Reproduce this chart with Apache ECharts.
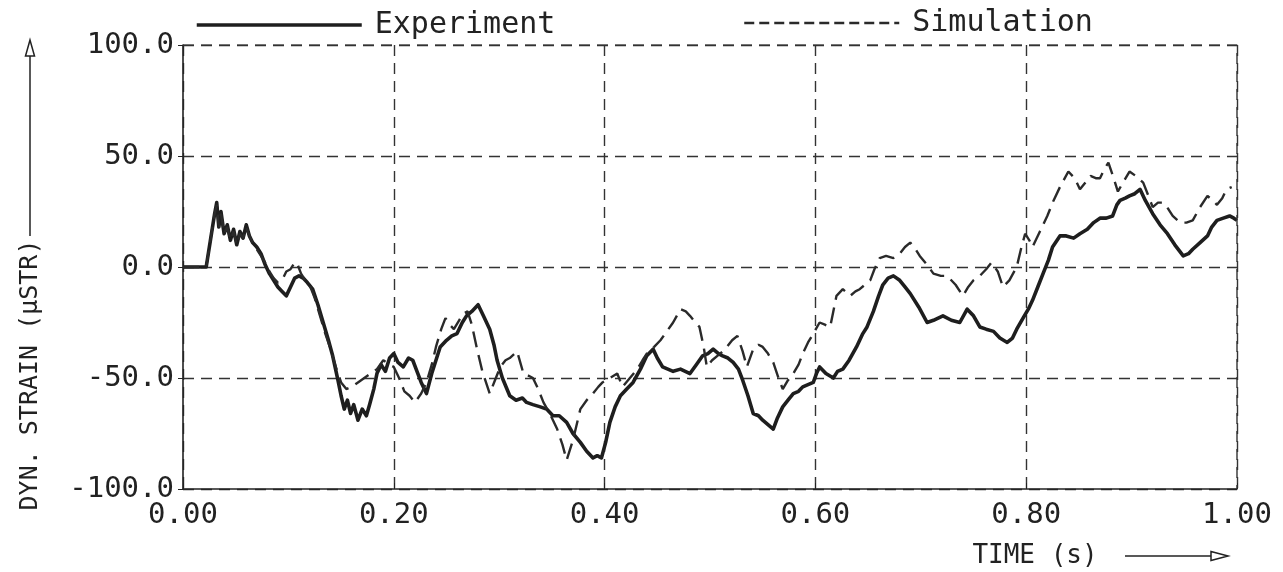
<!DOCTYPE html>
<html><head><meta charset="utf-8">
<script src="https://cdn.jsdelivr.net/npm/echarts@6/dist/echarts.min.js"></script>
<style>html,body{margin:0;padding:0;background:#fff}#c{width:1283px;height:572px}</style>
</head><body><div id="c"></div>
<script>
const xTicks = [0.00, 0.20, 0.40, 0.60, 0.80, 1.00];
const yTicks = [-100, -50, 0, 50, 100];
const seriesNames = ['Experiment', 'Simulation'];
const expT = [0.00,0.022,0.026,0.030,0.032,0.034,0.036,0.039,0.042,0.045,0.048,0.051,0.054,0.057,0.060,0.063,0.066,0.070,0.074,0.078,0.082,0.086,0.090,0.094,0.098,0.102,0.106,0.110,0.114,0.118,0.123,0.128,0.133,0.138,0.142,0.147,0.150,0.153,0.156,0.159,0.162,0.166,0.170,0.174,0.177,0.181,0.184,0.188,0.192,0.196,0.200,0.204,0.209,0.214,0.218,0.222,0.226,0.231,0.236,0.240,0.244,0.250,0.255,0.260,0.265,0.269,0.274,0.280,0.285,0.291,0.295,0.298,0.303,0.310,0.316,0.322,0.326,0.332,0.339,0.345,0.351,0.357,0.364,0.370,0.377,0.383,0.389,0.393,0.397,0.401,0.405,0.410,0.415,0.421,0.427,0.434,0.440,0.446,0.450,0.455,0.460,0.465,0.472,0.481,0.487,0.493,0.498,0.503,0.508,0.512,0.517,0.522,0.527,0.531,0.536,0.541,0.546,0.550,0.555,0.560,0.564,0.569,0.574,0.579,0.584,0.588,0.593,0.598,0.601,0.604,0.610,0.617,0.621,0.626,0.632,0.639,0.645,0.649,0.655,0.660,0.664,0.669,0.674,0.680,0.685,0.690,0.698,0.706,0.712,0.721,0.729,0.737,0.744,0.750,0.756,0.762,0.769,0.775,0.782,0.787,0.791,0.797,0.802,0.806,0.811,0.816,0.821,0.825,0.832,0.838,0.845,0.851,0.858,0.864,0.870,0.876,0.882,0.886,0.889,0.894,0.898,0.903,0.908,0.913,0.920,0.927,0.934,0.941,0.949,0.954,0.958,0.965,0.972,0.976,0.981,0.987,0.993,0.997,1.000];
const expV = [0,0,12,24,29,18,25,15,19,12,17,10,16,13,19,14,11,9,6,1,-3,-6,-9,-11,-13,-9,-5,-4,-5,-7,-10,-17,-25,-33,-40,-51,-58,-64,-60,-66,-62,-69,-64,-67,-62,-55,-48,-44,-47,-41,-39,-43,-45,-41,-42,-47,-52,-57,-48,-42,-36,-33,-31,-30,-25,-22,-20,-17,-22,-28,-35,-42,-50,-58,-60,-59,-61,-62,-63,-64,-67,-67,-70,-75,-79,-83,-86,-85,-86,-79,-70,-63,-58,-55,-52,-46,-40,-37,-41,-45,-46,-47,-46,-48,-44,-40,-39,-37,-39,-40,-41,-43,-46,-51,-58,-66,-67,-69,-71,-73,-68,-63,-60,-57,-56,-54,-53,-52,-48,-45,-48,-50,-47,-46,-42,-36,-30,-27,-20,-13,-8,-5,-4,-6,-9,-12,-18,-25,-24,-22,-24,-25,-19,-22,-27,-28,-29,-32,-34,-32,-28,-23,-19,-15,-9,-3,3,9,14,14,13,15,17,20,22,22,23,28,30,31,32,33,35,30,24,19,15,10,5,6,8,11,14,18,21,22,23,22,21];
const simT = [0.00,0.022,0.026,0.030,0.032,0.034,0.036,0.039,0.042,0.045,0.048,0.051,0.054,0.057,0.060,0.063,0.066,0.070,0.074,0.078,0.082,0.086,0.090,0.094,0.098,0.102,0.106,0.108,0.112,0.116,0.120,0.125,0.130,0.135,0.140,0.145,0.150,0.155,0.160,0.166,0.172,0.178,0.184,0.190,0.196,0.200,0.205,0.210,0.215,0.220,0.226,0.231,0.236,0.240,0.245,0.249,0.253,0.257,0.262,0.266,0.270,0.274,0.279,0.284,0.291,0.296,0.301,0.306,0.310,0.317,0.323,0.328,0.332,0.337,0.342,0.349,0.355,0.360,0.364,0.370,0.377,0.383,0.389,0.394,0.398,0.405,0.412,0.417,0.424,0.431,0.436,0.440,0.447,0.453,0.459,0.465,0.472,0.477,0.481,0.486,0.490,0.494,0.497,0.502,0.507,0.512,0.516,0.521,0.526,0.531,0.535,0.541,0.546,0.550,0.555,0.560,0.565,0.569,0.574,0.579,0.584,0.588,0.593,0.598,0.604,0.609,0.614,0.617,0.620,0.626,0.633,0.638,0.642,0.647,0.652,0.656,0.661,0.667,0.674,0.680,0.685,0.690,0.695,0.699,0.706,0.712,0.719,0.725,0.733,0.740,0.745,0.750,0.756,0.762,0.767,0.773,0.778,0.784,0.791,0.795,0.799,0.803,0.806,0.813,0.820,0.826,0.832,0.840,0.846,0.851,0.856,0.861,0.866,0.870,0.874,0.878,0.883,0.887,0.893,0.898,0.904,0.911,0.916,0.920,0.925,0.930,0.935,0.939,0.946,0.952,0.958,0.965,0.972,0.977,0.981,0.986,0.990,0.995,1.000];
const simV = [0,0,12,24,28,18,24,15,18,12,16,10,15,13,18,14,11,8,5,2,-2,-5,-7,-6,-2,-1,2,2,-3,-6,-8,-14,-22,-30,-37,-45,-52,-55,-54,-52,-50,-48,-46,-42,-44,-45,-50,-56,-58,-61,-57,-52,-44,-36,-28,-23,-26,-28,-24,-21,-20,-26,-37,-47,-57,-51,-45,-42,-41,-38,-48,-49,-50,-55,-61,-67,-73,-80,-87,-78,-64,-60,-57,-54,-52,-50,-48,-54,-50,-46,-42,-39,-36,-33,-29,-25,-19,-20,-22,-25,-27,-36,-45,-42,-40,-38,-36,-33,-31,-38,-45,-37,-35,-36,-39,-43,-50,-55,-51,-48,-44,-39,-34,-30,-25,-26,-27,-20,-13,-10,-13,-11,-10,-8,-6,-1,4,5,4,6,9,11,8,5,1,-3,-4,-4,-8,-13,-9,-6,-4,-1,2,-2,-9,-6,0,8,15,12,9,16,23,30,36,43,40,35,38,41,40,40,44,47,40,34,39,43,41,38,32,27,29,29,26,23,20,20,21,27,32,30,28,31,35,36];

const pair = (t, v) => t.map((x, i) => [x, v[i]]);
const FONT = '"DejaVu Sans Mono", monospace';
const INK = '#222';
const chart = echarts.init(document.getElementById('c'), null, {renderer: 'canvas'});
const gridDash = {color: '#333', width: 1.4, type: [11, 7]};
const legendText = {fontFamily: FONT, fontSize: 30, color: INK, padding: [0, 0, 0, 8]};
chart.setOption({
  backgroundColor: '#fff',
  animation: false,
  grid: {left: 183, right: 46, top: 45, bottom: 83},
  legend: [
    {data: [seriesNames[0]], left: 190, top: 5, itemWidth: 165, itemHeight: 30, selectedMode: false,
     itemStyle: {opacity: 0}, lineStyle: {width: 3.5, type: 'solid'}, textStyle: legendText},
    {data: [seriesNames[1]], left: 738, top: 3, itemWidth: 155, itemHeight: 30, selectedMode: false,
     itemStyle: {opacity: 0}, lineStyle: {width: 2.5, type: [10, 5]}, textStyle: legendText}
  ],
  xAxis: {
    type: 'value', min: 0, max: 1, interval: 0.2,
    axisLine: {onZero: false, lineStyle: {color: INK, width: 1.6}},
    axisTick: {show: true, inside: true, length: 6, lineStyle: {color: INK}},
    splitLine: {show: true, lineStyle: gridDash},
    axisLabel: {fontFamily: FONT, fontSize: 29, color: INK, margin: 12, formatter: v => xTicks.includes(+v.toFixed(2)) ? v.toFixed(2) : ''}
  },
  yAxis: {
    type: 'value', min: -100, max: 100, interval: 50,
    axisLine: {show: true, onZero: false, lineStyle: {color: INK, width: 1.6}},
    axisTick: {show: true, length: 5, lineStyle: {color: INK}},
    splitLine: {show: true, lineStyle: gridDash},
    axisLabel: {fontFamily: FONT, fontSize: 29, color: INK, margin: 9, formatter: v => yTicks.includes(v) ? v.toFixed(1) : ''}
  },
  series: [
    {name: seriesNames[0], type: 'line', data: pair(expT, expV), showSymbol: false, symbol: 'none',
     lineStyle: {color: '#1e1e1e', width: 3.6, join: 'round'}, itemStyle: {color: '#1e1e1e'}},
    {name: seriesNames[1], type: 'line', data: pair(simT, simV), showSymbol: false, symbol: 'none',
     lineStyle: {color: '#2a2a2a', width: 2.4, type: [16, 8]}, itemStyle: {color: '#2a2a2a'}},
    {type: 'line', data: [[0, 100], [1, 100], [1, -100]], showSymbol: false, symbol: 'none', silent: true,
     lineStyle: {color: '#333', width: 1.4, type: [11, 7]}, tooltip: {show: false}}
  ],
  graphic: [
    {type: 'text', x: 30, y: 375, rotation: Math.PI / 2, style: {text: 'DYN. STRAIN (μSTR)', fontFamily: FONT, fontSize: 25, fill: INK, align: 'center', verticalAlign: 'middle'}},
    {type: 'line', shape: {x1: 30, y1: 236, x2: 30, y2: 54}, style: {stroke: INK, lineWidth: 1.5}},
    {type: 'polygon', shape: {points: [[30, 40], [25.5, 56], [34.5, 56]]}, style: {stroke: INK, fill: '#fff', lineWidth: 1.5}},
    {type: 'text', x: 1035, y: 556, style: {text: 'TIME (s)', fontFamily: FONT, fontSize: 26, fill: INK, align: 'center', verticalAlign: 'middle'}},
    {type: 'line', shape: {x1: 1125, y1: 556, x2: 1212, y2: 556}, style: {stroke: INK, lineWidth: 1.5}},
    {type: 'polygon', shape: {points: [[1228, 556], [1211, 551.5], [1211, 560.5]]}, style: {stroke: INK, fill: '#fff', lineWidth: 1.5}}
  ]
});
</script></body></html>
